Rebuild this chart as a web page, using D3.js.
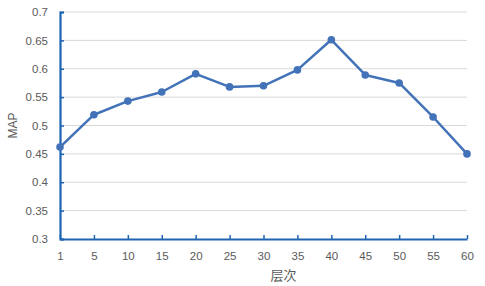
<!DOCTYPE html>
<html>
<head>
<meta charset="utf-8">
<script src="https://cdn.jsdelivr.net/npm/d3@7"></script>
<style>
  body { margin: 0; background: #fff; }
  text { font-family: "Liberation Sans", "Noto Sans CJK SC", sans-serif; fill: #595959; }
</style>
</head>
<body>
<div id="chart"></div>
<script>
const layers = ["1", "5", "10", "15", "20", "25", "30", "35", "40", "45", "50", "55", "60"];
const mapValues = [0.462, 0.519, 0.543, 0.559, 0.591, 0.568, 0.570, 0.598, 0.651, 0.589, 0.575, 0.515, 0.450];
const yTicks = [0.3, 0.35, 0.4, 0.45, 0.5, 0.55, 0.6, 0.65, 0.7];

const width = 485, height = 286;
const margin = {left: 60, right: 18, top: 12, bottom: 47};

const svg = d3.select("#chart").append("svg")
  .attr("width", width)
  .attr("height", height);

const x = d3.scalePoint()
  .domain(layers)
  .range([margin.left, width - margin.right]);

const y = d3.scaleLinear()
  .domain([0.3, 0.7])
  .range([height - margin.bottom, margin.top]);

const axisColor = "#1f63b3";

// grid lines
svg.append("g")
  .selectAll("line")
  .data(yTicks.slice(1))
  .enter().append("line")
  .attr("x1", margin.left)
  .attr("x2", width - margin.right)
  .attr("y1", d => y(d))
  .attr("y2", d => y(d))
  .attr("stroke", "#d9d9d9")
  .attr("stroke-width", 1);

// y axis
const yAxis = svg.append("g")
  .attr("transform", "translate(" + margin.left + ",0)")
  .call(d3.axisLeft(y).tickValues(yTicks).tickSize(-4).tickPadding(12).tickFormat(d => d3.format("")(+d.toFixed(2))));
yAxis.select(".domain").attr("stroke", axisColor).attr("stroke-width", 2.2);
yAxis.selectAll(".tick line").attr("stroke", axisColor).attr("stroke-width", 1.5);
yAxis.selectAll(".tick text").style("font-size", "11.5px").style("fill", "#5a5a5a");

// x axis
const xAxis = svg.append("g")
  .attr("transform", "translate(0," + (height - margin.bottom) + ")")
  .call(d3.axisBottom(x).tickSize(-4).tickPadding(13).tickSizeOuter(0));
xAxis.select(".domain").attr("stroke", axisColor).attr("stroke-width", 2.2);
xAxis.selectAll(".tick line").attr("stroke", axisColor).attr("stroke-width", 1.5);
xAxis.selectAll(".tick text").style("font-size", "11.5px").style("fill", "#5a5a5a");

// series line
const line = d3.line()
  .x((d, i) => x(layers[i]))
  .y(d => y(d));

svg.append("path")
  .datum(mapValues)
  .attr("d", line)
  .attr("fill", "none")
  .attr("stroke", "#4272b8")
  .attr("stroke-width", 2.5)
  .attr("stroke-linejoin", "round");

svg.append("g")
  .selectAll("circle")
  .data(mapValues)
  .enter().append("circle")
  .attr("cx", (d, i) => x(layers[i]))
  .attr("cy", d => y(d))
  .attr("r", 3.8)
  .attr("fill", "#4272b8");

// axis titles
svg.append("text")
  .attr("transform", "translate(17," + ((margin.top + height - margin.bottom) / 2) + ") rotate(-90)")
  .attr("text-anchor", "middle")
  .style("font-size", "12px")
  .text("MAP");

svg.append("text")
  .attr("x", (margin.left + width - margin.right) / 2 + 20)
  .attr("y", 280)
  .attr("text-anchor", "middle")
  .style("font-size", "13px")
  .text("层次");
</script>
</body>
</html>
